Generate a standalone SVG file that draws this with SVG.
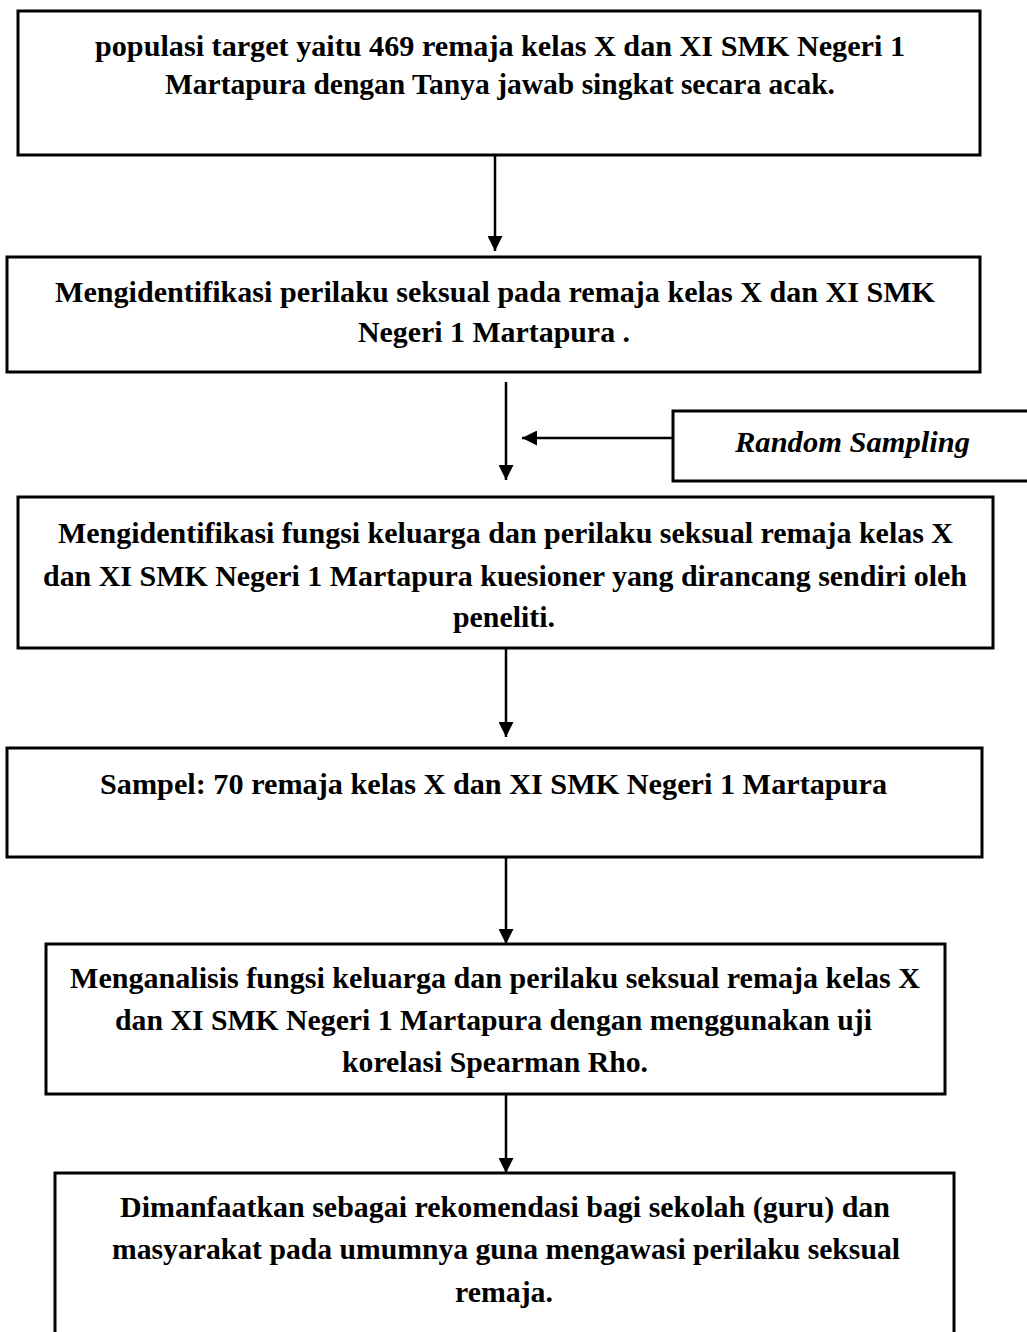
<svg xmlns="http://www.w3.org/2000/svg" width="1027" height="1332" viewBox="0 0 1027 1332">
<defs>
<style>
.box{fill:#fff;stroke:#000;stroke-width:3}
.t{font-family:"Liberation Serif","Times New Roman",serif;font-size:30px;font-weight:bold;fill:#000}
.i{font-style:italic}
.c{stroke:#000;stroke-width:2.5;fill:none}
</style>
<marker id="ah" viewBox="0 0 10 10" refX="10" refY="5" markerWidth="7" markerHeight="6" markerUnits="strokeWidth" orient="auto">
<path d="M0,0 L10,5 L0,10 z" fill="#000"/>
</marker>
</defs>
<rect width="1027" height="1332" fill="#fff"/>
<g id="connectors">
<line class="c" x1="495" y1="155" x2="495" y2="251" marker-end="url(#ah)"/>
<line class="c" x1="506" y1="382" x2="506" y2="480" marker-end="url(#ah)"/>
<line class="c" x1="673" y1="438" x2="522" y2="438" marker-end="url(#ah)"/>
<line class="c" x1="506" y1="648" x2="506" y2="737" marker-end="url(#ah)"/>
<line class="c" x1="506" y1="857" x2="506" y2="944" marker-end="url(#ah)"/>
<line class="c" x1="506" y1="1094" x2="506" y2="1173" marker-end="url(#ah)"/>
</g>
<g id="n1">
<rect class="box" x="18" y="11" width="962" height="144"/>
<text class="t" x="95" y="56" textLength="810" lengthAdjust="spacingAndGlyphs">populasi target yaitu 469 remaja kelas X dan XI SMK Negeri 1</text>
<text class="t" x="165" y="94" textLength="670" lengthAdjust="spacingAndGlyphs">Martapura dengan Tanya jawab singkat secara acak.</text>
</g>
<g id="n2">
<rect class="box" x="7" y="257" width="973" height="115"/>
<text class="t" x="55" y="302" textLength="880" lengthAdjust="spacingAndGlyphs">Mengidentifikasi perilaku seksual pada remaja kelas X dan XI SMK</text>
<text class="t" x="358" y="342" textLength="272" lengthAdjust="spacingAndGlyphs">Negeri 1 Martapura .</text>
</g>
<g id="n_rs">
<rect class="box" x="673" y="411" width="360" height="70"/>
<text class="t i" x="735" y="452" textLength="235" lengthAdjust="spacingAndGlyphs">Random Sampling</text>
</g>
<g id="n3">
<rect class="box" x="18" y="497" width="975" height="151"/>
<text class="t" x="58" y="543" textLength="895" lengthAdjust="spacingAndGlyphs">Mengidentifikasi fungsi keluarga dan perilaku seksual remaja kelas X</text>
<text class="t" x="43" y="586" textLength="924" lengthAdjust="spacingAndGlyphs">dan XI SMK Negeri 1 Martapura kuesioner yang dirancang sendiri oleh</text>
<text class="t" x="453" y="627" textLength="102" lengthAdjust="spacingAndGlyphs">peneliti.</text>
</g>
<g id="n4">
<rect class="box" x="7" y="748" width="975" height="109"/>
<text class="t" x="100" y="794" textLength="787" lengthAdjust="spacingAndGlyphs">Sampel: 70 remaja kelas X dan XI  SMK Negeri 1 Martapura</text>
</g>
<g id="n5">
<rect class="box" x="46" y="944" width="899" height="150"/>
<text class="t" x="70" y="988" textLength="850" lengthAdjust="spacingAndGlyphs">Menganalisis fungsi keluarga dan perilaku seksual remaja kelas X</text>
<text class="t" x="115" y="1030" textLength="757" lengthAdjust="spacingAndGlyphs">dan XI SMK Negeri 1 Martapura dengan menggunakan uji</text>
<text class="t" x="342" y="1072" textLength="306" lengthAdjust="spacingAndGlyphs">korelasi Spearman Rho.</text>
</g>
<g id="n6">
<rect class="box" x="55" y="1173" width="899" height="175"/>
<text class="t" x="120" y="1217" textLength="770" lengthAdjust="spacingAndGlyphs">Dimanfaatkan sebagai rekomendasi bagi sekolah (guru) dan</text>
<text class="t" x="112" y="1259" textLength="788" lengthAdjust="spacingAndGlyphs">masyarakat pada umumnya guna mengawasi perilaku seksual</text>
<text class="t" x="455" y="1302" textLength="98" lengthAdjust="spacingAndGlyphs">remaja.</text>
</g>
</svg>
